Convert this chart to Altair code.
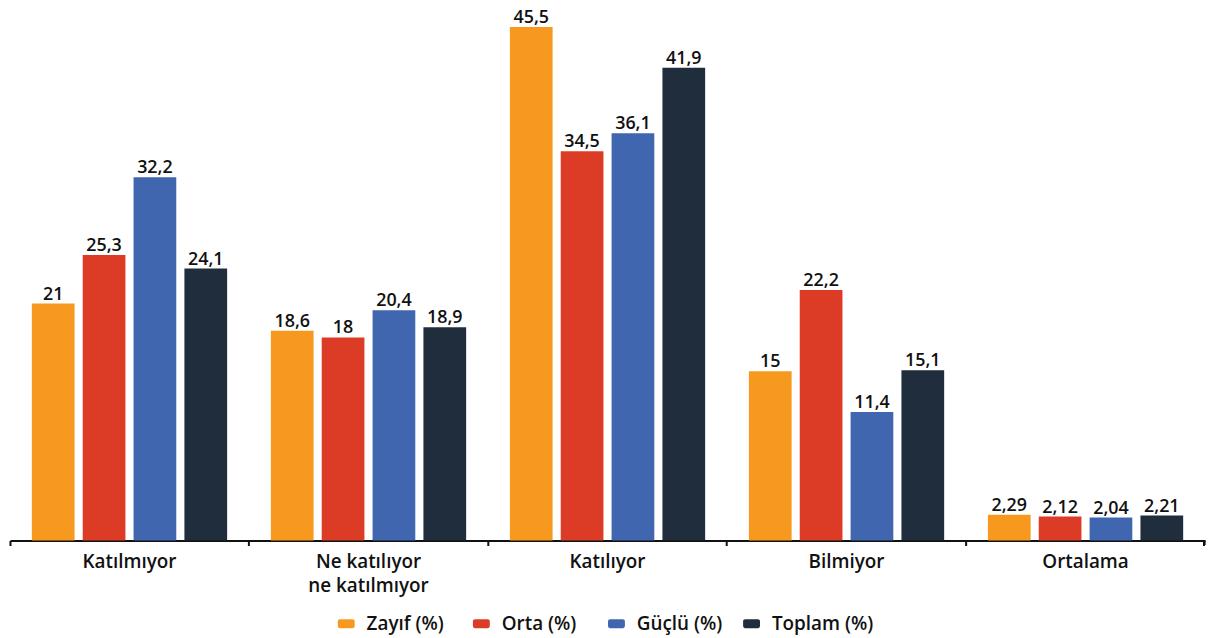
import altair as alt
import pandas as pd

categories = ["Katılmıyor", "Ne katılıyor|ne katılmıyor", "Katılıyor", "Bilmiyor", "Ortalama"]
series = ["Zayıf (%)", "Orta (%)", "Güçlü (%)", "Toplam (%)"]
colors = ["#F7991E", "#DC3C26", "#4066AF", "#1F2D3D"]
zayif = [21, 18.6, 45.5, 15, 2.29]
orta = [25.3, 18, 34.5, 22.2, 2.12]
guclu = [32.2, 20.4, 36.1, 11.4, 2.04]
toplam = [24.1, 18.9, 41.9, 15.1, 2.21]

rows = []
for s, vals in zip(series, [zayif, orta, guclu, toplam]):
    for c, v in zip(categories, vals):
        rows.append({"cat": c, "series": s, "value": v,
                     "label": (str(v)).replace(".", ",")})
df = pd.DataFrame(rows)

FONT = "Open Sans"
FS = 18
FSL = 19
W, H = 1203, 528

x = alt.X("cat:N", sort=categories, title=None,
          scale=alt.Scale(paddingInner=0, paddingOuter=0),
          axis=alt.Axis(labelAngle=0, labelExpr="split(datum.label, '|')",
                        labelFont=FONT, labelFontSize=FSL, labelFontWeight=600,
                        labelColor="#111111", labelLineHeight=24, labelPadding=7,
                        domainColor="#111111", domainWidth=2,
                        tickColor="#111111", tickWidth=2, tickSize=5,
                        bandPosition=0, grid=False))
xo = alt.XOffset("series:N", sort=series,
                 scale=alt.Scale(paddingInner=0.16, paddingOuter=0.43))
y = alt.Y("value:Q", scale=alt.Scale(domain=[0, 46.48], nice=False), axis=None)

rounded = ("M-0.75,-0.53 H0.75 A0.25,0.25 0 0 1 1,-0.28 V0.28 "
           "A0.25,0.25 0 0 1 0.75,0.53 H-0.75 A0.25,0.25 0 0 1 -1,0.28 "
           "V-0.28 A0.25,0.25 0 0 1 -0.75,-0.53 Z")

color = alt.Color("series:N", sort=series,
                  scale=alt.Scale(domain=series, range=colors),
                  legend=alt.Legend(title=None, orient="none", direction="horizontal",
                                    legendX=329, legendY=602,
                                    symbolType=rounded, symbolSize=289,
                                    symbolStrokeWidth=0, labelFont=FONT,
                                    labelFontSize=FSL, labelFontWeight=600,
                                    labelColor="#111111", labelOffset=11,
                                    gridAlign="all", columnPadding=4))

bars = alt.Chart(df).mark_bar().encode(x=x, xOffset=xo, y=y, color=color)
text = alt.Chart(df).mark_text(baseline="alphabetic", dy=-4, font=FONT, fontSize=FS,
                               fontWeight=600, color="#111111").encode(
    x=x, xOffset=xo, y=y, text="label:N")
endtick = alt.Chart(df).mark_rule(color="#111111", strokeWidth=2).encode(
    x=alt.value(W - 1), y=alt.value(H), y2=alt.value(H + 5))

chart = alt.layer(bars, text, endtick).properties(
    width=W, height=H,
    autosize=alt.AutoSizeParams(type="none"),
    padding={"left": 2, "top": 6, "right": 6, "bottom": 93}
).configure_view(stroke=None)

chart.save("out.html", embed_options={"renderer": "svg", "actions": False})
